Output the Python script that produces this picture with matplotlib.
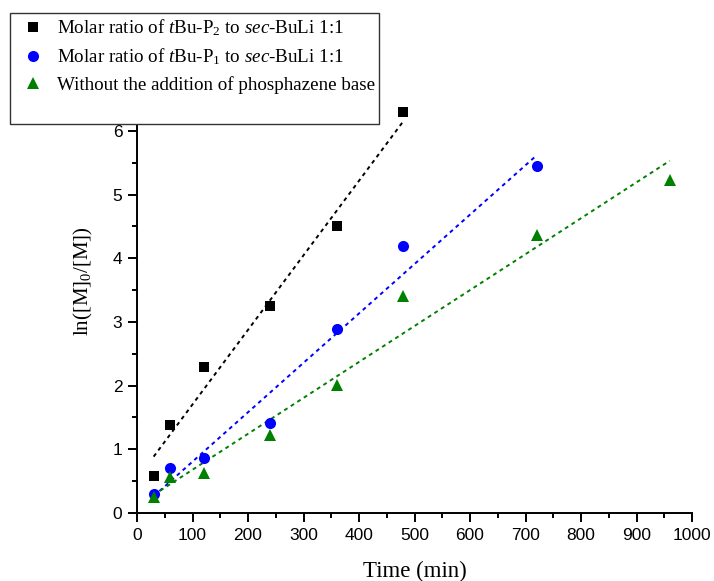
import numpy as np
import matplotlib
matplotlib.use("Agg")
import matplotlib.pyplot as plt
from matplotlib.lines import Line2D

plt.rcParams['mathtext.fontset'] = 'custom'
plt.rcParams['mathtext.rm'] = 'Liberation Serif'
plt.rcParams['mathtext.it'] = 'Liberation Serif:italic'
plt.rcParams['font.family'] = ['Liberation Serif', 'DejaVu Serif']

# Data
time_p2 = [30, 60, 120, 240, 360, 480]
ln_p2 = [0.58, 1.38, 2.30, 3.25, 4.50, 6.30]
time_p1 = [30, 60, 120, 240, 360, 480, 720]
ln_p1 = [0.30, 0.70, 0.86, 1.42, 2.89, 4.19, 5.45]
time_none = [30, 60, 120, 240, 360, 480, 720, 960]
ln_none = [0.25, 0.57, 0.63, 1.22, 2.01, 3.41, 4.36, 5.23]

labels = [r"Molar ratio of $t$Bu-P$_2$ to $sec$-BuLi 1:1",
          r"Molar ratio of $t$Bu-P$_1$ to $sec$-BuLi 1:1",
          "Without the addition of phosphazene base"]
colors = ['black', '#0000ff', '#008000']
markers = ['s', 'o', '^']
msizes = [7.6, 8, 9]

fig = plt.figure(figsize=(7.14, 5.81), dpi=100)
ax = fig.add_axes([137 / 714, 1 - 513 / 581, (692 - 137) / 714, 0.8])

series = [(time_p2, ln_p2), (time_p1, ln_p1), (time_none, ln_none)]
handles = []
for (t, y), c, m, ms, lab in zip(series, colors, markers, msizes, labels):
    t = np.array(t, float); y = np.array(y, float)
    k, b = np.polyfit(t, y, 1)
    xx = np.array([t.min(), t.max()])
    ax.plot(xx, k * xx + b, color=c, lw=1.4, dashes=(2, 2), zorder=2, clip_on=False)
    h, = ax.plot(t, y, linestyle='none', marker=m, color=c, markersize=ms,
                 markeredgewidth=0, zorder=3, clip_on=False, label=lab)
    handles.append(h)

ax.set_xlim(0, 1000)
ax.set_ylim(0, 7.3)
ax.set_xticks(np.arange(0, 1001, 100))
ax.set_xticks(np.arange(50, 1000, 100), minor=True)
ax.set_yticks(np.arange(0, 7, 1))
ax.set_yticks(np.arange(0.5, 6.6, 1), minor=True)
for s in ['top', 'right']:
    ax.spines[s].set_visible(False)
for s in ['left', 'bottom']:
    ax.spines[s].set_linewidth(1.4)
ax.tick_params(which='major', direction='out', length=6.5, width=1.4, pad=4)
ax.tick_params(which='minor', direction='out', length=3.5, width=1.4)
for lab in ax.get_xticklabels() + ax.get_yticklabels():
    lab.set_fontfamily('Liberation Sans')
    lab.set_fontsize(12.5)

ax.set_xlabel("Time (min)", fontsize=16.5, labelpad=13)
ax.set_ylabel(r"ln([M]$_0$/[M])", fontsize=15, labelpad=13)

blank = Line2D([], [], linestyle='none', marker='none')
leg = fig.legend(handles + [blank], labels + [" "], loc='upper left',
                 bbox_to_anchor=(10 / 714, 1 - 13 / 581), bbox_transform=fig.transFigure,
                 fontsize=13.7, frameon=True, fancybox=False, framealpha=1,
                 edgecolor='#333333', handlelength=2.0, handletextpad=0.25,
                 labelspacing=0.45, borderpad=0.22, borderaxespad=0)
leg.get_frame().set_linewidth(1.0)
leg.set_zorder(10)

fig.savefig("out.png", dpi=100)
